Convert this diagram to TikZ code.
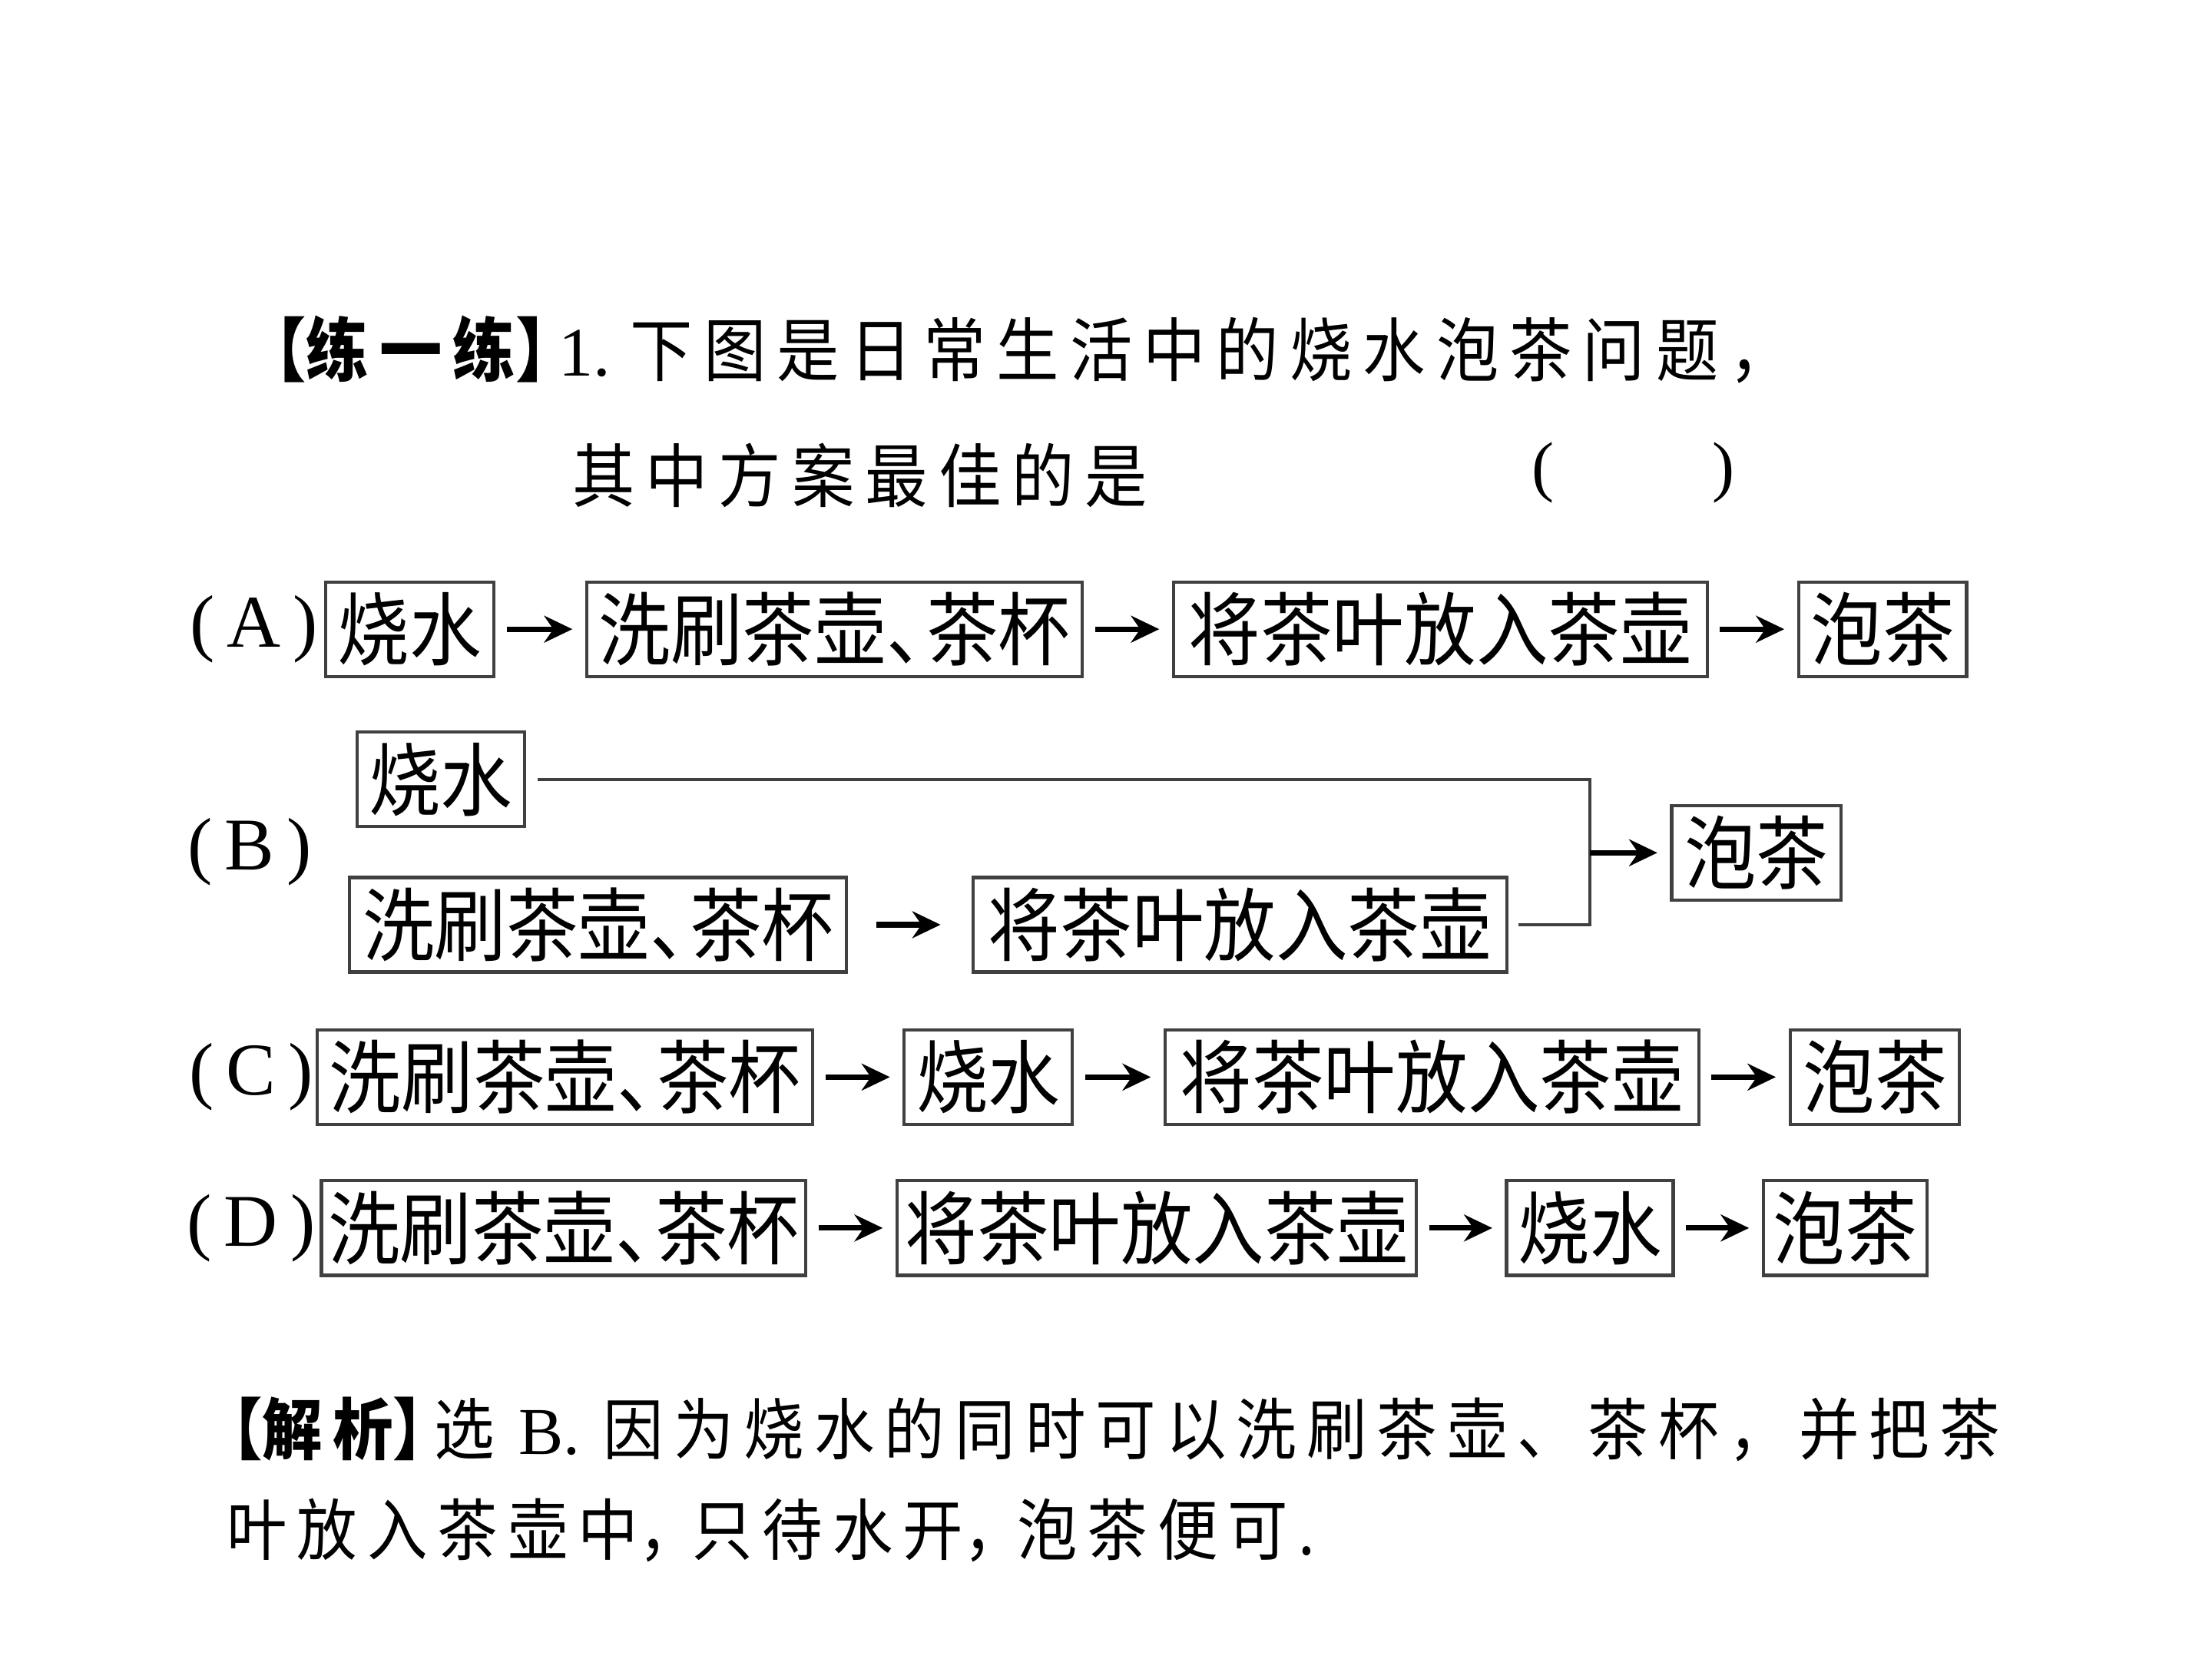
\documentclass[tikz,border=0pt]{standalone}
\usepackage{fontspec}
\setmainfont{Liberation Serif}
\newfontfamily\cjk[FakeStretch=0.9]{Noto Sans CJK SC}
\newfontfamily\cjkt[FakeStretch=0.9,LetterSpace=15.5]{Noto Sans CJK SC}
\newfontfamily\cjks[FakeStretch=0.9,LetterSpace=15]{Noto Sans CJK SC}
\usetikzlibrary{arrows.meta}
\newcommand\dun{\makebox[0.5em][l]{、}}
\newcommand\lbr{\makebox[0.62em][r]{【}}
\newcommand\rbr{\makebox[0.62em][l]{】}}
\tikzset{
  bx/.style={draw=black!75, line width=0.65pt, minimum height=0.67cm, inner sep=0pt,
    font=\fontsize{16.1pt}{18pt}\selectfont\cjk},
  arr/.style={draw=black, line width=1.1pt, -{Stealth[length=2mm,width=1.9mm]},
    shorten <=0.8mm, shorten >=0.9mm},
  conn/.style={draw=black!75, line width=0.65pt},
  lbl/.style={inner sep=0pt, font=\fontsize{15pt}{18pt}\selectfont},
  txt/.style={inner sep=0pt, anchor=west, font=\fontsize{14pt}{16pt}\selectfont\cjkt},
  ana/.style={inner sep=0pt, anchor=west, font=\fontsize{13.5pt}{16pt}\selectfont\cjks}
}
\begin{document}
\begin{tikzpicture}[x=0.01cm,y=-0.01cm]
\fill[white] (0,0) rectangle (1568,1176);
\path[use as bounding box] (0,0) rectangle (1568,1176);

% title
\node[txt] (t1) at (186,248) {{\bfseries \lbr 练一练\rbr}{\rmfamily 1.}\hspace{0.14cm}下图是日常生活中的烧水泡茶问题，};
\node[txt] (t2) at (405,337) {其中方案最佳的是};
\node[inner sep=0pt, font=\fontsize{13.5pt}{16pt}\selectfont] (par) at (1158,335) {(\hspace{1.12cm})};

% row A
\node[lbl] (la) at (180,446) {(\,A\,)};
\node[bx, minimum width=1.19cm] (A1) at (290.5,446) {烧水};
\node[bx, minimum width=3.51cm] (A2) at (591.5,446) {洗刷茶壶\dun 茶杯};
\node[bx, minimum width=3.78cm] (A3) at (1021,446) {将茶叶放入茶壶};
\node[bx, minimum width=1.19cm] (A4) at (1334.5,446) {泡茶};
\draw[arr] (A1) -- (A2);
\draw[arr] (A2) -- (A3);
\draw[arr] (A3) -- (A4);

% row B
\node[lbl] (lb) at (177,604) {(\,B\,)};
\node[bx, minimum width=1.19cm] (B1) at (312.5,552.5) {烧水};
\node[bx, minimum width=3.52cm] (B2) at (424,655.5) {洗刷茶壶\dun 茶杯};
\node[bx, minimum width=3.78cm] (B3) at (879,655.5) {将茶叶放入茶壶};
\node[bx, minimum width=1.20cm] (B4) at (1245,604.5) {泡茶};
\coordinate (J) at (1127,604.5);
\draw[arr, shorten <=2mm, shorten >=2.2mm] (B2) -- (B3);
\draw[conn, shorten <=0.8mm, shorten >=0.7mm] (B1.east) -| (J) |- (B3.east);
\draw[arr, shorten <=0pt] (J) -- (B4);

% row C
\node[lbl] (lc) at (178,763.5) {(\,C\,)};
\node[bx, minimum width=3.51cm] (C1) at (400.5,763.5) {洗刷茶壶\dun 茶杯};
\node[bx, minimum width=1.19cm] (C2) at (700.5,763.5) {烧水};
\node[bx, minimum width=3.78cm] (C3) at (1015,763.5) {将茶叶放入茶壶};
\node[bx, minimum width=1.20cm] (C4) at (1329,763.5) {泡茶};
\draw[arr] (C1) -- (C2);
\draw[arr] (C2) -- (C3);
\draw[arr] (C3) -- (C4);

% row D
\node[lbl] (ld) at (178,870.5) {(\,D\,)};
\node[bx, minimum width=3.43cm] (D1) at (399.5,870.5) {洗刷茶壶\dun 茶杯};
\node[bx, minimum width=3.68cm] (D2) at (820,870.5) {将茶叶放入茶壶};
\node[bx, minimum width=1.18cm] (D3) at (1127,870.5) {烧水};
\node[bx, minimum width=1.16cm] (D4) at (1308,870.5) {泡茶};
\draw[arr] (D1) -- (D2);
\draw[arr] (D2) -- (D3);
\draw[arr] (D3) -- (D4);

% analysis
\node[ana] (s1) at (156,1013) {{\bfseries \lbr 解析\rbr}选 {\rmfamily B.} 因为烧水的同时可以洗刷茶壶、茶杯，并把茶};
\node[ana] (s2) at (160,1085) {叶放入茶壶中\makebox[0.8em][l]{，}只待水开\makebox[0.8em][l]{，}泡茶便可.};
\end{tikzpicture}
\end{document}
